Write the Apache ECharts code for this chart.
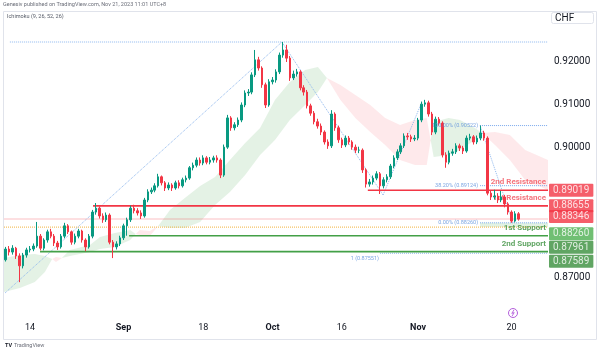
<!DOCTYPE html>
<html><head><meta charset="utf-8">
<script src="https://cdn.jsdelivr.net/npm/echarts@6/dist/echarts.min.js"></script>
<style>html,body{margin:0;padding:0;background:#fff}#c{width:600px;height:353px}</style>
</head><body><div id="c"></div>
<script>
// ---- data (USD/CHF, 12h-ish bars) ----
const firstOpen = 0.8740;
const closes = [
0.8765,0.8758,0.8767,0.8749,0.8726,0.8751,0.8763,0.8765,0.8772,0.8795,
0.8767,0.8786,0.8805,0.8795,0.8779,0.8770,0.8795,0.8819,0.8805,0.8781,
0.8795,0.8807,0.8786,0.8770,0.8795,0.8851,0.8860,0.8842,0.8833,0.8844,
0.8781,0.8770,0.8777,0.8791,0.8819,0.8833,0.8860,0.8854,0.8849,0.8842,
0.8879,0.8898,0.8902,0.8912,0.8933,0.8919,0.8907,0.8914,0.8907,0.8919,
0.8912,0.8926,0.8930,0.8954,0.8960,0.8972,0.8965,0.8977,0.8967,0.8972,
0.8977,0.8972,0.8937,0.9002,0.9070,0.9047,0.9054,0.9065,0.9100,0.9128,
0.9130,0.9170,0.9205,0.9186,0.9147,0.9100,0.9154,0.9158,0.9177,0.9216,
0.9228,0.9209,0.9163,0.9172,0.9177,0.9140,0.9130,0.9098,0.9081,0.9061,
0.9051,0.9037,0.9014,0.9005,0.9079,0.9047,0.9019,0.9007,0.9023,0.9014,
0.9002,0.8995,0.8995,0.8949,0.8916,0.8921,0.8930,0.8940,0.8912,0.8926,
0.8933,0.8958,0.8977,0.8991,0.9005,0.9028,0.9026,0.9021,0.9023,0.9065,
0.9102,0.9105,0.9079,0.9037,0.9067,0.9058,0.8984,0.8967,0.8988,0.8991,
0.9005,0.9000,0.8993,0.9023,0.9026,0.9014,0.9023,0.9035,0.9023,0.8895,
0.8886,0.8888,0.8879,0.8886,0.8870,0.8851,0.8830,0.8847,0.88346];
const highs = [
.8770,.8772,.8774,.8770,.8755,.8756,.8768,.8772,.8778,.8828,
.8800,.8790,.8810,.8812,.8800,.8784,.8800,.8826,.8823,.8808,
.8801,.8812,.8810,.8790,.8800,.8856,.8872,.8864,.8848,.8850,
.8848,.8786,.8783,.8796,.8824,.8838,.8866,.8868,.8860,.8855,
.8884,.8904,.8908,.8918,.8940,.8936,.8923,.8920,.8918,.8924,
.8925,.8931,.8936,.8958,.8966,.8978,.8978,.8983,.8981,.8979,
.8982,.8983,.8976,.9008,.9077,.9074,.9060,.9071,.9106,.9134,
.9137,.9176,.9228,.9212,.9190,.9152,.9160,.9165,.9183,.9222,
.92465,.9240,.9214,.9180,.9184,.9181,.9146,.9135,.9103,.9086,
.9068,.9057,.9041,.9020,.9088,.9083,.9052,.9024,.9029,.9028,
.9018,.9008,.9003,.8999,.8953,.8928,.8936,.8946,.8944,.8932,
.8939,.8963,.8983,.8997,.9011,.9034,.9035,.9031,.9030,.9070,
.9108,.9112,.9110,.9084,.9073,.9072,.9062,.8990,.8994,.8998,
.9011,.9010,.9005,.9029,.9033,.9030,.9029,.9052,.9040,.9027,
.8901,.8903,.8895,.8900,.8891,.8874,.8855,.8853,.8851];
const lows = [
.8736,.8750,.8752,.8742,.8688,.8720,.8745,.8757,.8760,.8768,
.8762,.8762,.8780,.8790,.8772,.8763,.8766,.8790,.8800,.8775,
.8776,.8790,.8780,.8760,.8766,.8790,.8845,.8836,.8826,.8828,
.8776,.8744,.8764,.8772,.8786,.8796,.8828,.8848,.8843,.8835,
.8838,.8874,.8893,.8897,.8908,.8913,.8900,.8902,.8900,.8903,
.8906,.8908,.8920,.8926,.8948,.8955,.8959,.8960,.8962,.8962,
.8966,.8966,.8930,.8933,.8998,.9040,.9041,.9049,.9060,.9095,
.9121,.9125,.9165,.9180,.9140,.9093,.9096,.9148,.9152,.9172,
.9210,.9200,.9156,.9158,.9166,.9134,.9122,.9092,.9075,.9055,
.9045,.9030,.9008,.8998,.9000,.9040,.9012,.9000,.9002,.9008,
.8996,.8988,.8988,.8942,.8908,.8910,.8915,.8925,.8893,.8906,
.8920,.8928,.8953,.8972,.8986,.9000,.9019,.9014,.9016,.9018,
.9060,.9096,.9073,.9030,.9032,.9052,.8978,.8954,.8962,.8982,
.8986,.8993,.8986,.8989,.9018,.9008,.9009,.9018,.9017,.8890,
.8879,.8880,.8872,.8874,.8862,.8845,.8826,.8827,.8831];

// Ichimoku cloud (Senkou A / Senkou B), bar position incl. 26-bar projection
const cloudIdx = [-0.5,4.1,8.4,11.3,13.4,14.5,16.2,18.5,24.3,27.2,31.5,35.9,37.5,38.7,41.6,44.0,47.4,51.7,56.1,60.4,64.7,69.1,73.4,77.7,82.0,86.4,90.1,92.7,96.6,100.9,105.2,109.5,113.8,118.1,121.5,123.5,127.8,131.1,135.4,137.5,141.2,145.5,149.9,156.5];
const spanA = [0.87442,0.87512,0.87535,0.87488,0.87419,0.87349,0.87442,0.87628,0.87744,0.87930,0.88023,0.88093,0.88000,0.87977,0.87954,0.88186,0.88558,0.88837,0.89116,0.89326,0.89721,0.90116,0.90465,0.91116,0.91535,0.91814,0.91884,0.91628,0.91116,0.90698,0.90372,0.90070,0.89721,0.89605,0.89605,0.90605,0.90698,0.90651,0.90465,0.90349,0.90070,0.89721,0.89256,0.89023];
const spanB = [0.86651,0.86744,0.86884,0.87116,0.87419,0.87465,0.87442,0.87488,0.87581,0.87651,0.87698,0.87860,0.88000,0.88093,0.88070,0.88186,0.88140,0.88140,0.88279,0.88674,0.88977,0.89372,0.89837,0.90186,0.90651,0.91000,0.91302,0.91628,0.91465,0.91233,0.91000,0.90698,0.90535,0.90651,0.90698,0.89791,0.89837,0.89953,0.90186,0.90349,0.90372,0.90302,0.89953,0.89721];

// x-axis ticks
const tickIdx = [7,34,57,77,97,119,146];
const tickText = ['14','Sep','18','Oct','16','Nov','20'];
const monthTicks = ['Sep','Oct','Nov'];

// support / resistance levels
const levelNames = ['2nd Resistance','1st Resistance','1st Support','2nd Support'];
const levelValues = [0.89019,0.88655,0.87961,0.87589];
const levelStart = [104.5,25.2,35.6,9.9];

// fib retracement
const fibText = ['100.00% (0.90522)','38.20% (0.89124)','0.00% (0.88260)'];
const fibValues = [0.90522,0.89124,0.88260];
const fibStart = 136.9;
const extTopValue = 0.92465, extTopStart = 1.2;
const extOneValue = 0.87551, extOneStart = 108.0, extOneText = '1 (0.87551)';
const trendPts = [[-0.2,0.86628],[79.7,0.92465],[108.9,0.88907]];
const trendPts2 = [[108.9,0.88907],[120.1,0.91070]];
const fibDiag = [[136.9,0.90522],[146.4,0.88260]];
const lastPrice = 0.88346, prevClose = 0.88160;

// right price-scale tags
const tagValues = [0.89019,0.88655,0.88346,0.88260,0.87961,0.87589];

// ---- build ----
const N = 157, XMAX = N - 0.5;
const cats = Array.from({length:N},(_,i)=>String(i));
const candleData = closes.map((c,i)=>[i===0?firstOpen:closes[i-1], c, lows[i], highs[i]]);
const FONT = 'Roboto, "Liberation Sans", Arial, sans-serif';
const GREEN_C = 'rgba(67,160,71,0.14)', RED_C = 'rgba(242,54,69,0.11)';
const cloudPts = cloudIdx.map((x,i)=>[x,spanA[i],spanB[i]]);

function renderCloud(params, api){
  if (params.dataIndex !== 0) return null;
  const children = [];
  let upper=[], lower=[], sign=null;
  const flush=()=>{ if(upper.length>1 && sign!==null) children.push({type:'polygon',shape:{points:upper.concat(lower.slice().reverse())},style:{fill: sign>0?GREEN_C:RED_C}}); };
  for (let i=0;i<cloudPts.length;i++){
    const [x,a,b]=cloudPts[i]; const d=a-b; const s=d>0?1:(d<0?-1:0);
    if (i>0){
      const [x0,a0,b0]=cloudPts[i-1]; const d0=a0-b0;
      if (d0*d<0){
        const t=d0/(d0-d); const c=api.coord([x0+t*(x-x0), a0+t*(a-a0)]);
        upper.push(c); lower.push(c); flush(); upper=[c]; lower=[c]; sign=s;
      }
    }
    if (sign===null && s!==0) sign=s;
    const pa=api.coord([x,a]), pb=api.coord([x,b]);
    upper.push(pa); lower.push(pb);
    if (s===0 && upper.length>1){ flush(); upper=[pa]; lower=[pb]; sign=null; }
  }
  flush();
  return {type:'group',children};
}

function seg(points,color,width,type,z){
  return {type:'line',xAxisIndex:1,data:points,symbol:'none',silent:true,animation:false,
    lineStyle:{color:color,width:width,type:type},z:z||2};
}
const series = [];
series.push({type:'custom',xAxisIndex:1,renderItem:renderCloud,data:cloudPts,encode:{x:0,y:1},silent:true,z:1,animation:false});
// price line & prev close
series.push(seg([[-0.5,lastPrice],[XMAX,lastPrice]],'rgba(242,54,69,0.16)',2,'solid',1));
series.push(seg([[-0.5,prevClose],[XMAX,prevClose]],'#f2b33d',1,'dotted',1));
// fib extension
series.push(seg([[extTopStart,extTopValue],[XMAX,extTopValue]],'#8fb8ee',1,'dotted',2));
series.push(seg([[extOneStart,extOneValue],[XMAX,extOneValue]],'#8fb8ee',1,'dotted',2));
series.push(seg(trendPts,'#8fb8ee',1,'dotted',2));
series.push(seg(trendPts2,'#8fb8ee',1,'dotted',2));
series.push(seg(fibDiag,'#8fb8ee',1,'dotted',2));
fibValues.forEach(v=>series.push(seg([[fibStart,v],[XMAX,v]],'#7aa9ec',1,'dotted',2)));
// fib 0 fill
series.push({type:'line',xAxisIndex:1,data:[],silent:true,
  markArea:{silent:true,itemStyle:{color:'rgba(76,175,80,0.16)'},data:[[{coord:[fibStart,fibValues[2]]},{coord:[XMAX,prevClose]}]]}});
// S/R lines
const levelColors = ['#f23645','#f23645','#43a047','#43a047'];
levelValues.forEach((v,i)=>series.push(seg([[levelStart[i],v],[XMAX,v]],levelColors[i],1.6,'solid',2)));
// level texts (under candles)
series.push({type:'scatter',xAxisIndex:1,symbolSize:0,silent:true,z:2,animation:false,
  data:levelValues.map((v,i)=>({value:[XMAX,v],label:{show:true,formatter:levelNames[i],position:'top',align:'right',offset:[-2,1],
    color:i<2?'#f0515c':'#388e3c',fontSize:8,fontWeight:'bold',fontFamily:FONT}}))});
// fib texts (above candles)
const fibTextData = fibValues.map((v,i)=>({value:[fibStart,v],label:{show:true,formatter:fibText[i],position:'left',distance:2,
  color:'#5a8fdc',fontSize:5.5,fontFamily:FONT}}));
fibTextData.push({value:[extOneStart,extOneValue],label:{show:true,formatter:extOneText,position:'left',distance:1,offset:[0,5],color:'#5a8fdc',fontSize:5.5,fontFamily:FONT}});
series.push({type:'scatter',xAxisIndex:1,symbolSize:0,silent:true,z:4,animation:false,data:fibTextData});
// candles
series.push({type:'candlestick',data:candleData,z:3,animation:false,barWidth:2,
  itemStyle:{color:'#089981',color0:'#f23645',borderColor:'#089981',borderColor0:'#f23645',borderWidth:1}});
// right tags
const tagColors = ['#f23645','#f23645','#f23645','#4caf50','#388e3c','#388e3c'];
const tagShift = [0,0,-2.5,11,11.5,9.5];
series.push({type:'scatter',xAxisIndex:1,symbolSize:0,silent:true,z:10,animation:false,
  data:tagValues.map((v,i)=>({value:[XMAX,v],label:{show:true,formatter:v.toFixed(5),position:'right',distance:1,offset:[0,tagShift[i]],
    backgroundColor:tagColors[i],color:'#fff',fontSize:10,fontFamily:FONT,padding:[2,4,1,4],borderRadius:1}}))});

const chart = echarts.init(document.getElementById('c'),null,{renderer:'canvas'});
chart.setOption({
  animation:false,
  backgroundColor:'#ffffff',
  grid:{left:4,right:52,top:10,bottom:33,containLabel:false},
  xAxis:[
    {type:'category',data:cats,boundaryGap:true,axisLine:{show:false},axisTick:{show:false},splitLine:{show:false},
     axisLabel:{interval:(i)=>tickIdx.includes(i),margin:3,color:'#131722',fontSize:9,fontFamily:FONT,
       formatter:(v,i)=>{const t=tickText[tickIdx.indexOf(Number(v))]; return monthTicks.includes(t)?'{b|'+t+'}':t;},
       rich:{b:{fontWeight:'bold',fontSize:9,color:'#131722',fontFamily:FONT}}}},
    {type:'value',min:-0.5,max:XMAX,show:false}
  ],
  yAxis:{type:'value',position:'right',min:0.86,max:0.932093,interval:0.01,scale:true,
    axisLine:{show:false},axisTick:{show:false},splitLine:{show:false},
    axisLabel:{margin:6,color:'#131722',fontSize:10,fontFamily:FONT,
      formatter:v=>{const r=Math.round(v*100)/100; return (r>=0.87&&r<=0.92&&r!==0.88&&r!==0.89)?r.toFixed(5):'';}}},
  series:series,
  graphic:[
    {type:'rect',shape:{x:3.5,y:11.5,width:593,height:328},style:{fill:'none',stroke:'#e0e3eb',lineWidth:1},silent:true,z:-1},
    {type:'text',left:3,top:2,style:{text:'Genesiv published on TradingView.com, Nov 21, 2023 11:01 UTC+8',fill:'#6a6d78',fontSize:5.5,fontFamily:FONT}},
    {type:'text',left:7,top:14,style:{text:'Ichimoku (9, 26, 52, 26)',fill:'#555a66',fontSize:5.5,fontFamily:FONT}},
    {type:'rect',shape:{x:551.5,y:12.5,width:42,height:11,r:2},style:{fill:'#fff',stroke:'#e0e3eb',lineWidth:1}},
    {type:'text',left:555,top:13,style:{text:'CHF',fill:'#131722',fontSize:10,fontFamily:FONT}},
    {type:'circle',shape:{cx:513,cy:313,r:4.5},style:{fill:'#fff',stroke:'#b45fdc',lineWidth:1}},
    {type:'polyline',shape:{points:[[514,309.8],[511.8,313.4],[514.2,312.6],[512,316.2]]},style:{fill:'none',stroke:'#b45fdc',lineWidth:0.9}},
    {type:'text',left:5,top:343,style:{text:'TV',fill:'#131722',fontSize:5.5,fontWeight:'bold',fontFamily:FONT}},
    {type:'text',left:14,top:343,style:{text:'TradingView',fill:'#6a6d78',fontSize:5.5,fontFamily:FONT}}
  ]
});
</script></body></html>
